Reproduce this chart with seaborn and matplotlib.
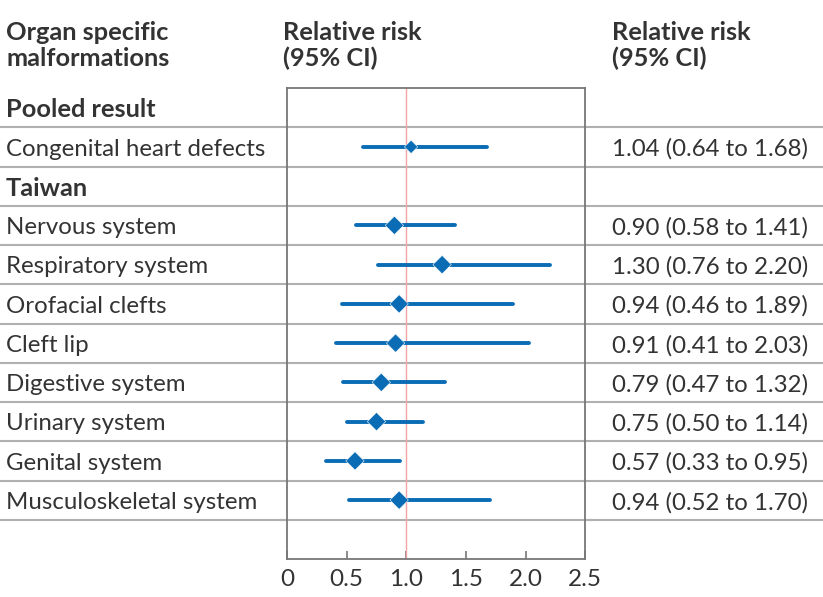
import matplotlib
matplotlib.use("Agg")
import matplotlib.pyplot as plt
import matplotlib.transforms as mtransforms
import seaborn as sns
import pandas as pd

# ---- data ----
labels = ["Congenital heart defects", "Nervous system", "Respiratory system",
          "Orofacial clefts", "Cleft lip", "Digestive system", "Urinary system",
          "Genital system", "Musculoskeletal system"]
groups = ["Pooled", "Taiwan", "Taiwan", "Taiwan", "Taiwan", "Taiwan", "Taiwan",
          "Taiwan", "Taiwan"]
rr = [1.04, 0.90, 1.30, 0.94, 0.91, 0.79, 0.75, 0.57, 0.94]
lo = [0.64, 0.58, 0.76, 0.46, 0.41, 0.47, 0.50, 0.33, 0.52]
hi = [1.68, 1.41, 2.20, 1.89, 2.03, 1.32, 1.14, 0.95, 1.70]
ticks = [0, 0.5, 1.0, 1.5, 2.0, 2.5]
tick_labels = ["0", "0.5", "1.0", "1.5", "2.0", "2.5"]
section_titles = ["Pooled result", "Taiwan"]

sns.set_theme(style="white")
plt.rcParams['font.family'] = ['Lato', 'DejaVu Sans']

TXT = "#333333"
BLUE = "#0a6cb4"
GRID = "#b0b0b0"

rows = [1] + list(range(3, 11))
df = pd.DataFrame({"label": labels, "group": groups, "rr": rr, "lo": lo,
                   "hi": hi, "row": rows})

fig = plt.figure(figsize=(8.23, 5.97), dpi=100)
ax = fig.add_axes([287/823, 1-559/597, (585.3-287)/823, (559-88)/597])

ax.set_xlim(0, 2.5)
ax.set_ylim(11.5, -0.5)

trans = mtransforms.blended_transform_factory(fig.transFigure, ax.transData)
for y in [0.5 + i for i in range(11)]:
    ax.plot([0, 1], [y, y], transform=trans, color=GRID, lw=1.5,
            clip_on=False, zorder=1)

ax.axvline(1.0, color="#f5a3a3", lw=1.0, zorder=2)

ax.hlines(df["row"], df["lo"], df["hi"], color=BLUE, lw=2.8,
          capstyle="round", zorder=3)
sns.scatterplot(data=df, x="rr", y="row", size="group",
                sizes={"Pooled": 46, "Taiwan": 88}, marker="D", color=BLUE,
                edgecolor="white", linewidth=0.4, legend=False, ax=ax, zorder=4)

ax.set_xlabel("")
ax.set_ylabel("")
ax.set_yticks([])
ax.set_xticks(ticks)
ax.set_xticklabels(tick_labels)
ax.tick_params(axis="x", direction="in", length=6, width=1.2, color="#777777",
               labelsize=17.5, labelcolor=TXT, pad=7.5, bottom=True)
for s in ax.spines.values():
    s.set_color("#777777")
    s.set_linewidth(1.3)

tl = mtransforms.blended_transform_factory(fig.transFigure, ax.transData)
xl = 6/823
xr = 612/823
fs = 17.3
fsb = 18.3
dy = 0.06
ax.text(xl, 0 + dy, section_titles[0], transform=tl, ha="left", va="center",
        fontsize=fsb, fontweight="bold", color=TXT)
ax.text(xl, 2 + dy, section_titles[1], transform=tl, ha="left", va="center",
        fontsize=fsb, fontweight="bold", color=TXT)
for _, r in df.iterrows():
    ax.text(xl, r["row"] + dy, r["label"], transform=tl, ha="left", va="center",
            fontsize=fs, color=TXT)
    ax.text(xr, r["row"] + dy, f"{r['rr']:.2f} ({r['lo']:.2f} to {r['hi']:.2f})",
            transform=tl, ha="left", va="center", fontsize=fs, color=TXT)

hy1 = 1 - 33/597
hy2 = 1 - 58/597
for x, (l1, l2) in [(6, ("Organ specific", "malformations")),
                    (283, ("Relative risk", "(95% CI)")),
                    (612, ("Relative risk", "(95% CI)"))]:
    fig.text(x/823, hy1, l1, ha="left", va="center", fontsize=fsb,
             fontweight="bold", color=TXT)
    fig.text(x/823, hy2, l2, ha="left", va="center", fontsize=fsb,
             fontweight="bold", color=TXT)

fig.savefig("out.png", dpi=100)
